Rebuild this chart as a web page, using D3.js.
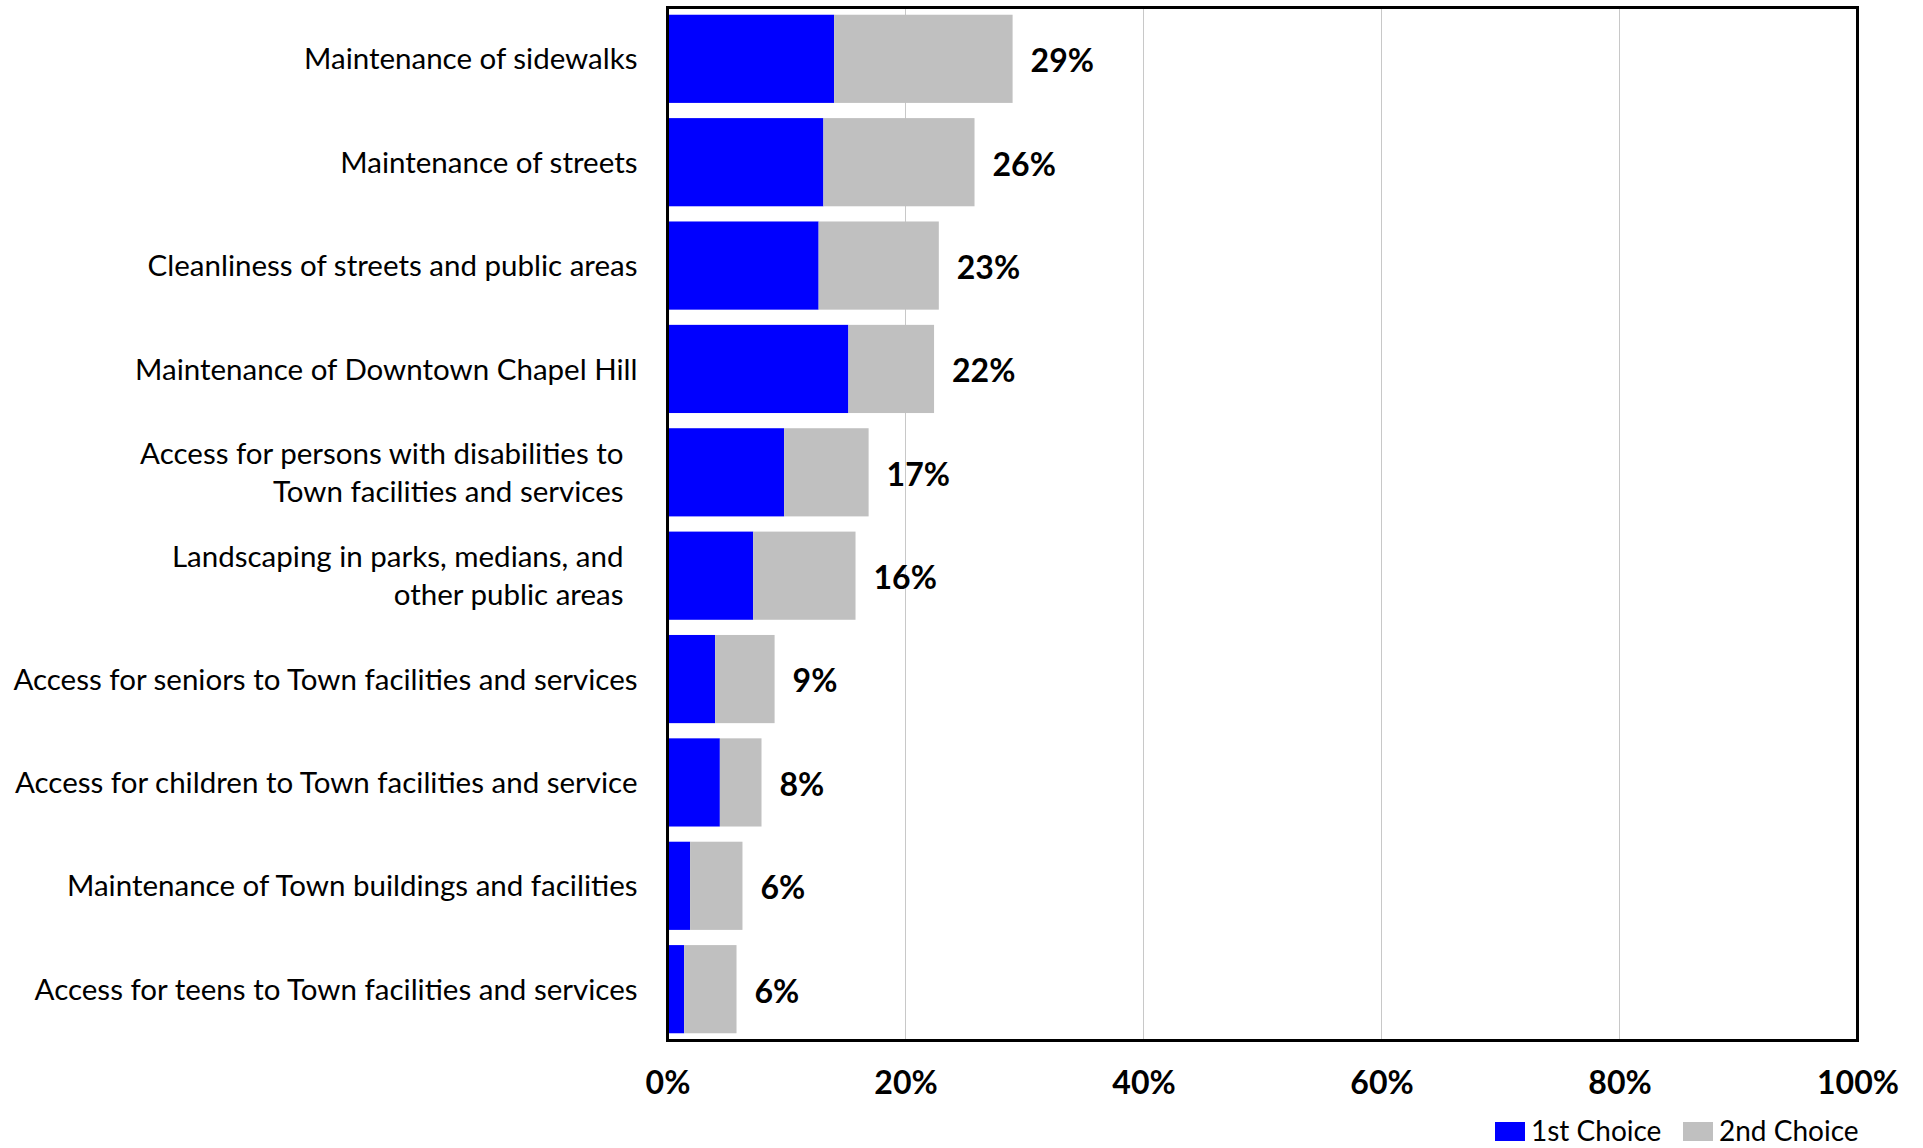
<!DOCTYPE html>
<html>
<head>
  <meta charset="utf-8">
  <script src="https://d3js.org/d3.v7.min.js"></script>
  <style>
    body { margin: 0; background: #fff; }
    svg { display: block; font-family: Lato, "Open Sans", sans-serif; }
  </style>
</head>
<body>
<script>
  // chart data (percent of respondents)
  var categories = [
    ["Maintenance of sidewalks"],
    ["Maintenance of streets"],
    ["Cleanliness of streets and public areas"],
    ["Maintenance of Downtown Chapel Hill"],
    ["Access for persons with disabilities to", "Town facilities and services"],
    ["Landscaping in parks, medians, and", "other public areas"],
    ["Access for seniors to Town facilities and services"],
    ["Access for children to Town facilities and service"],
    ["Maintenance of Town buildings and facilities"],
    ["Access for teens to Town facilities and services"]
  ];
  var firstChoice  = [14.0, 13.1, 12.7, 15.2, 9.8, 7.2, 4.0, 4.4, 1.9, 1.4];
  var secondChoice = [15.0, 12.7, 10.1, 7.2, 7.1, 8.6, 5.0, 3.5, 4.4, 4.4];
  var totalLabels  = ["29%", "26%", "23%", "22%", "17%", "16%", "9%", "8%", "6%", "6%"];
  var xTicks = [0, 20, 40, 60, 80, 100];
  var seriesNames = ["1st Choice", "2nd Choice"];
  var colors = ["#0000ff", "#c0c0c0"];

  var W = 1923, H = 1148;
  var margin = {top: 7.5, right: 65.5, bottom: 107.5, left: 667.5};
  var width = W - margin.left - margin.right,
      height = H - margin.top - margin.bottom;

  var svg = d3.select("body").append("svg")
      .attr("width", W)
      .attr("height", H);

  var g = svg.append("g")
      .attr("transform", "translate(" + margin.left + "," + margin.top + ")");

  var x = d3.scaleLinear().domain([0, 100]).range([0, width]);
  var y = d3.scaleBand()
      .domain(d3.range(categories.length))
      .range([0, height])
      .paddingInner(0.147)
      .paddingOuter(0.07);

  // gridlines
  g.selectAll(".grid")
    .data(xTicks.slice(1, -1))
    .enter().append("line")
      .attr("x1", function (d) { return x(d); })
      .attr("x2", function (d) { return x(d); })
      .attr("y1", 0)
      .attr("y2", height)
      .attr("stroke", "#c8c8c8")
      .attr("stroke-width", 1);

  // stacked bars
  var rows = categories.map(function (c, i) {
    return {i: i, a: firstChoice[i], b: secondChoice[i]};
  });

  g.selectAll(".b1")
    .data(rows)
    .enter().append("rect")
      .attr("x", x(0))
      .attr("y", function (d) { return y(d.i); })
      .attr("width", function (d) { return x(d.a) - x(0); })
      .attr("height", y.bandwidth())
      .attr("fill", colors[0]);

  g.selectAll(".b2")
    .data(rows)
    .enter().append("rect")
      .attr("x", function (d) { return x(d.a); })
      .attr("y", function (d) { return y(d.i); })
      .attr("width", function (d) { return x(d.a + d.b) - x(d.a); })
      .attr("height", y.bandwidth())
      .attr("fill", colors[1]);

  // value labels
  g.selectAll(".val")
    .data(rows)
    .enter().append("text")
      .attr("x", function (d) { return x(d.a + d.b) + 18; })
      .attr("y", function (d) { return y(d.i) + y.bandwidth() / 2; })
      .attr("dy", "0.42em")
      .style("font-size", "32px")
      .style("font-weight", "bold")
      .text(function (d) { return totalLabels[d.i]; });

  // category labels
  var lineH = 38;
  var cat = g.selectAll(".cat")
    .data(rows)
    .enter().append("text")
      .attr("text-anchor", "end")
      .style("font-size", "29.5px")
      .attr("transform", function (d) {
        var n = categories[d.i].length;
        var off = n > 1 ? -44 : -30;
        return "translate(" + off + "," + (y(d.i) + y.bandwidth() / 2 - (n - 1) * lineH / 2) + ")";
      });
  cat.selectAll("tspan")
    .data(function (d) { return categories[d.i]; })
    .enter().append("tspan")
      .attr("x", 0)
      .attr("y", function (d, j) { return j * lineH; })
      .attr("dy", "0.36em")
      .text(function (d) { return d; });

  // frame
  g.append("rect")
    .attr("x", 0).attr("y", 0)
    .attr("width", width).attr("height", height)
    .attr("fill", "none")
    .attr("stroke", "#000")
    .attr("stroke-width", 3);

  // x axis labels
  var xAxis = g.append("g")
    .attr("transform", "translate(0," + height + ")")
    .call(d3.axisBottom(x).tickValues(xTicks).tickSize(0).tickPadding(31)
      .tickFormat(function (d) { return d + "%"; }));
  xAxis.select(".domain").remove();
  xAxis.selectAll("text")
    .attr("fill", "#000")
    .style("font-family", "Lato, 'Open Sans', sans-serif")
    .style("font-size", "32px")
    .style("font-weight", "bold");

  // legend
  var legendX = [1495, 1683];
  var lg = svg.selectAll(".lg")
    .data(seriesNames)
    .enter().append("g")
      .attr("transform", function (d, i) { return "translate(" + legendX[i] + ",1122)"; });
  lg.append("rect")
    .attr("width", 30).attr("height", 19)
    .attr("fill", function (d, i) { return colors[i]; });
  lg.append("text")
    .attr("x", 36)
    .attr("y", 19)
    .style("font-size", "28px")
    .text(function (d) { return d; });
</script>
</body>
</html>
